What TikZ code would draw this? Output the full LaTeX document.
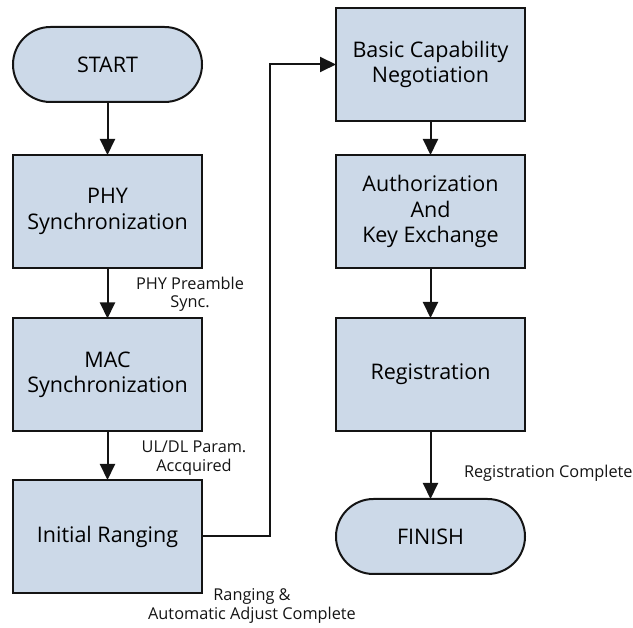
\documentclass[tikz,border=0pt]{standalone}
\usepackage{fontspec}
\setmainfont{Open Sans}
\usetikzlibrary{arrows.meta}
\definecolor{boxfill}{RGB}{204,217,232}
\definecolor{edge}{RGB}{20,20,20}
\begin{document}
\begin{tikzpicture}[x=1pt,y=-1pt,
  every node/.style={inner sep=0pt, outer sep=0pt},
  stepbox/.style={draw=edge, line width=2pt, fill=boxfill, minimum width=189pt,
    minimum height=113pt, align=center, font=\fontsize{21.5}{25.5}\selectfont},
  terminal/.style={stepbox, minimum height=75pt, rounded corners=37.5pt},
  flow/.style={draw=edge, line width=2pt, -{Triangle[width=15pt,length=16pt]}},
  note/.style={align=center, font=\fontsize{16.3}{18.5}\selectfont, text=edge}]
\useasboundingbox (0,0) rectangle (633,628);

% left column
\node[terminal] (start) at (107.5,64.5) {START};
\node[stepbox] (phy) at (107.5,211.5) {PHY\\Synchronization};
\node[stepbox] (mac) at (107.5,375) {MAC\\Synchronization};
\node[stepbox] (ir) at (107.5,536.5) {Initial Ranging};

% right column
\node[stepbox] (bcn) at (430.5,64.5) {Basic Capability\\Negotiation};
\node[stepbox] (auth) at (430.5,211.5) {Authorization\\And\\Key Exchange};
\node[stepbox] (reg) at (430.5,374.5) {Registration};
\node[terminal] (fin) at (430.5,536.5) {FINISH};

% transition labels
\node[note] (l1) at (190,294.5) {PHY Preamble\\Sync.};
\node[note] (l2) at (194,458) {UL/DL Param.\\Accquired};
\node[note] (l3) at (252,606) {Ranging \&\\Automatic Adjust Complete};
\node[note, anchor=west] (l4) at (464,473) {Registration Complete};

% connectors
\draw[flow] (start) -- (phy);
\draw[flow] (phy) -- (mac);
\draw[flow] (mac) -- (ir);
\draw[flow, line join=miter] (ir.east) -- ++(68,0) |- (bcn.west);
\draw[flow] (bcn) -- (auth);
\draw[flow] (auth) -- (reg);
\draw[flow] (reg) -- (fin);
\end{tikzpicture}
\end{document}
